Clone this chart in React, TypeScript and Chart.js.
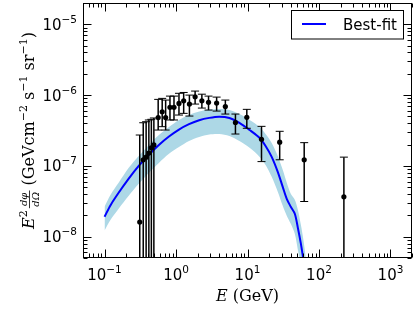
import { useEffect, useRef } from "react";
import { Chart, registerables } from "chart.js";
Chart.register(...registerables);

// ---- Data ----
const curveE = [0.1, 0.1215, 0.1575, 0.218, 0.301, 0.417, 0.576, 0.797, 1.1, 1.52, 2.11, 2.92, 4.03, 5.58, 7.71, 10.7, 14.8, 17.9, 21.8, 26.5, 31.1, 35.4, 40.3, 45.9, 50.6, 55.8, 60.5];
const curveY = [1.91e-8, 2.79e-8, 4.17e-8, 6.62e-8, 1.0e-7, 1.44e-7, 1.98e-7, 2.6e-7, 3.26e-7, 3.88e-7, 4.42e-7, 4.77e-7, 4.95e-7, 4.74e-7, 4.04e-7, 3.21e-7, 2.48e-7, 1.91e-7, 1.34e-7, 8.23e-8, 5.06e-8, 3.43e-8, 2.65e-8, 2.11e-8, 1.34e-8, 7.97e-9, 4.74e-9];

const bandE = [0.1, 0.1215, 0.1575, 0.218, 0.301, 0.417, 0.576, 0.797, 1.1, 1.52, 2.11, 2.92, 4.03, 5.58, 7.71, 10.7, 14.8, 17.9, 21.8, 26.5, 31.1, 35.4, 40.3, 45.9, 50.6, 55.8, 60.5, 65.6];
const bandHi = [2.65e-8, 3.91e-8, 5.77e-8, 9.38e-8, 1.38e-7, 1.98e-7, 2.73e-7, 3.54e-7, 4.45e-7, 5.23e-7, 5.86e-7, 6.25e-7, 6.35e-7, 6.15e-7, 5.4e-7, 4.45e-7, 3.54e-7, 2.82e-7, 2.11e-7, 1.38e-7, 8.79e-8, 5.77e-8, 4.04e-8, 3.32e-8, 2.4e-8, 1.47e-8, 9.08e-9, 5.0e-9];
const bandLo = [1.22e-8, 1.73e-8, 2.48e-8, 3.78e-8, 5.58e-8, 7.96e-8, 1.1e-7, 1.48e-7, 1.85e-7, 2.25e-7, 2.56e-7, 2.78e-7, 2.82e-7, 2.65e-7, 2.25e-7, 1.8e-7, 1.34e-7, 1.03e-7, 7.0e-8, 4.31e-8, 2.73e-8, 1.98e-8, 1.52e-8, 1.1e-8, 6.56e-9, 3.9e-9, 2e-9, 1e-9];

const dataE = [0.311, 0.348, 0.382, 0.417, 0.452, 0.49, 0.563, 0.641, 0.716, 0.823, 0.937, 1.1, 1.28, 1.54, 1.85, 2.3, 2.85, 3.7, 4.9, 6.78, 9.78, 15.7, 28.2, 62.1, 223];
const dataY = [1.61e-8, 1.22e-7, 1.33e-7, 1.52e-7, 1.8e-7, 1.98e-7, 4.82e-7, 5.82e-7, 4.82e-7, 6.71e-7, 6.71e-7, 7.64e-7, 8.3e-7, 7.47e-7, 9.46e-7, 8.3e-7, 7.9e-7, 7.72e-7, 6.88e-7, 4.1e-7, 4.85e-7, 2.38e-7, 2.16e-7, 1.22e-7, 3.66e-8];
const dataHi = [2.73e-7, 4.07e-7, 4.21e-7, 4.45e-7, 4.55e-7, 4.75e-7, 8.7e-7, 8.99e-7, 8.51e-7, 9.68e-7, 9.68e-7, 1.06e-6, 1.09e-6, 1.0e-6, 1.14e-6, 1.03e-6, 9.68e-7, 9.37e-7, 8.51e-7, 5.4e-7, 6.29e-7, 3.62e-7, 3.08e-7, 2.13e-7, 1.33e-7];
const dataLo = [1e-10, 1e-10, 1e-10, 1e-10, 1e-10, 1e-10, 3.21e-7, 3.58e-7, 3.21e-7, 4.45e-7, 4.45e-7, 5.23e-7, 5.52e-7, 5.06e-7, 7.47e-7, 6.56e-7, 6.15e-7, 5.95e-7, 5.4e-7, 2.82e-7, 3.4e-7, 1.15e-7, 1.22e-7, 3.14e-8, 1e-10];

const xTickExps = [-1, 0, 1, 2, 3];
const yTickExps = [-8, -7, -6, -5];
const xMin = 0.05, xMax = 2000, yMin = 5e-9, yMax = 2e-5;
const legendLabel = "Best-fit";

const SANS = '"DejaVu Sans", sans-serif';
const SERIF = '"DejaVu Serif", serif';

function drawPow(ctx: CanvasRenderingContext2D, exp: number, x: number, baseline: number, align: "center" | "right") {
  const base = "10";
  const sup = exp < 0 ? "\u2212" + Math.abs(exp) : String(exp);
  ctx.font = `15px ${SANS}`;
  const w1 = ctx.measureText(base).width;
  ctx.font = `10.5px ${SANS}`;
  const w2 = ctx.measureText(sup).width;
  const total = w1 + w2;
  const start = align === "center" ? x - total / 2 : x - total;
  ctx.textAlign = "left";
  ctx.textBaseline = "alphabetic";
  ctx.font = `15px ${SANS}`;
  ctx.fillText(base, start, baseline);
  ctx.font = `10.5px ${SANS}`;
  ctx.fillText(sup, start + w1, baseline - 7);
}

const customPlugin = {
  id: "custom",
  afterDatasetsDraw(chart: any) {
    const { ctx, chartArea: a, scales } = chart;
    const xs = scales.x, ys = scales.y;
    ctx.save();
    ctx.beginPath();
    ctx.rect(a.left, a.top, a.right - a.left, a.bottom - a.top);
    ctx.clip();
    ctx.strokeStyle = "#000";
    dataE.forEach((e, i) => {
      const px = xs.getPixelForValue(e);
      const top = ys.getPixelForValue(dataHi[i]);
      const bot = ys.getPixelForValue(dataLo[i]);
      ctx.lineWidth = 1.5;
      ctx.beginPath();
      ctx.moveTo(px, top);
      ctx.lineTo(px, bot);
      ctx.stroke();
      ctx.lineWidth = 1;
      ctx.beginPath();
      ctx.moveTo(px - 4, top);
      ctx.lineTo(px + 4, top);
      ctx.moveTo(px - 4, bot);
      ctx.lineTo(px + 4, bot);
      ctx.stroke();
      ctx.fillStyle = "#000";
      ctx.beginPath();
      ctx.arc(px, ys.getPixelForValue(dataY[i]), 2.6, 0, Math.PI * 2);
      ctx.fill();
    });
    ctx.restore();
  },
  afterDraw(chart: any) {
    const { ctx, chartArea: a, scales } = chart;
    const xs = scales.x, ys = scales.y;
    ctx.save();
    ctx.strokeStyle = "#000";
    ctx.fillStyle = "#000";
    ctx.lineWidth = 1;
    // frame
    ctx.strokeRect(Math.round(a.left) + 0.5, Math.round(a.top) + 0.5, Math.round(a.right - a.left) - 1, Math.round(a.bottom - a.top) - 1);
    const L = Math.round(a.left) + 0.5, R = Math.round(a.right) - 0.5, T = Math.round(a.top) + 0.5, B = Math.round(a.bottom) - 0.5;
    // ticks (inward, all four sides)
    ctx.beginPath();
    for (let e = -2; e <= 3; e++) {
      for (let k = 1; k <= 9; k++) {
        const v = k * Math.pow(10, e);
        if (v < xMin || v > xMax) continue;
        const px = Math.round(xs.getPixelForValue(v)) + 0.5;
        const len = k === 1 ? 8 : 4;
        ctx.moveTo(px, B); ctx.lineTo(px, B - len);
        ctx.moveTo(px, T); ctx.lineTo(px, T + len);
      }
    }
    for (let e = -9; e <= -5; e++) {
      for (let k = 1; k <= 9; k++) {
        const v = k * Math.pow(10, e);
        if (v < yMin || v > yMax) continue;
        const py = Math.round(ys.getPixelForValue(v)) + 0.5;
        const len = k === 1 ? 8 : 4;
        ctx.moveTo(L, py); ctx.lineTo(L + len, py);
        ctx.moveTo(R, py); ctx.lineTo(R - len, py);
      }
    }
    ctx.stroke();
    // tick labels
    xTickExps.forEach((e) => drawPow(ctx, e, xs.getPixelForValue(Math.pow(10, e)), 280, "center"));
    yTickExps.forEach((e) => drawPow(ctx, e, a.left - 6, ys.getPixelForValue(Math.pow(10, e)) + 5.5, "right"));

    // x label
    ctx.font = `italic 16px ${SERIF}`;
    const wE = ctx.measureText("E").width;
    ctx.font = `16px ${SERIF}`;
    const wRest = ctx.measureText(" (GeV)").width;
    const cx = (a.left + a.right) / 2;
    const sx = cx - (wE + wRest) / 2;
    ctx.textAlign = "left";
    ctx.font = `italic 16px ${SERIF}`;
    ctx.fillText("E", sx, 301);
    ctx.font = `16px ${SERIF}`;
    ctx.fillText(" (GeV)", sx + wE, 301);

    // y label (rotated)
    const segs: { t: string; f: string; dy: number }[] = [
      { t: "E", f: `italic 16px ${SERIF}`, dy: 0 },
      { t: "2", f: `11px ${SERIF}`, dy: -7 },
      { t: "FRAC", f: "", dy: 0 },
      { t: " (GeVcm", f: `16px ${SERIF}`, dy: 0 },
      { t: "\u22122", f: `11px ${SERIF}`, dy: -7 },
      { t: " s", f: `16px ${SERIF}`, dy: 0 },
      { t: "\u22121", f: `11px ${SERIF}`, dy: -7 },
      { t: " sr", f: `16px ${SERIF}`, dy: 0 },
      { t: "\u22121", f: `11px ${SERIF}`, dy: -7 },
      { t: ")", f: `16px ${SERIF}`, dy: 0 },
    ];
    const fracFont = `italic 10px ${SERIF}`;
    ctx.font = fracFont;
    const fracW = Math.max(ctx.measureText("d\u03C6").width, ctx.measureText("d\u03A9").width) + 3;
    let total = 0;
    const widths = segs.map((s) => {
      if (s.t === "FRAC") return fracW + 2;
      ctx.font = s.f;
      return ctx.measureText(s.t).width;
    });
    widths.forEach((w) => (total += w));
    ctx.translate(34, (a.top + a.bottom) / 2);
    ctx.rotate(-Math.PI / 2);
    let x0 = -total / 2;
    segs.forEach((s, i) => {
      if (s.t === "FRAC") {
        const fx = x0 + 2;
        ctx.font = fracFont;
        ctx.textAlign = "center";
        ctx.fillText("d\u03C6", fx + fracW / 2, -7.5);
        ctx.fillText("d\u03A9", fx + fracW / 2, 5);
        ctx.lineWidth = 0.8;
        ctx.beginPath();
        ctx.moveTo(fx, -4.5);
        ctx.lineTo(fx + fracW, -4.5);
        ctx.stroke();
        ctx.textAlign = "left";
      } else {
        ctx.font = s.f;
        ctx.fillText(s.t, x0, s.dy);
      }
      x0 += widths[i];
    });
    ctx.restore();

    // legend
    ctx.save();
    ctx.fillStyle = "#fff";
    ctx.strokeStyle = "#000";
    ctx.lineWidth = 1;
    ctx.fillRect(291.5, 10.5, 112, 28.5);
    ctx.strokeRect(291.5, 10.5, 112, 28.5);
    ctx.strokeStyle = "#0000ff";
    ctx.lineWidth = 2;
    ctx.beginPath();
    ctx.moveTo(302, 24);
    ctx.lineTo(326, 24);
    ctx.stroke();
    ctx.fillStyle = "#000";
    ctx.font = `15px ${SANS}`;
    ctx.textAlign = "left";
    ctx.fillText(legendLabel, 343, 30);
    ctx.restore();
  },
};

export default function App() {
  const ref = useRef<HTMLCanvasElement | null>(null);
  useEffect(() => {
    if (!ref.current) return;
    const chart = new Chart(ref.current, {
      type: "line",
      data: {
        datasets: [
          {
            data: bandE.map((e, i) => ({ x: e, y: bandHi[i] })),
            borderWidth: 0,
            borderColor: "rgba(0,0,0,0)",
            backgroundColor: "#add8e6",
            pointRadius: 0,
            fill: "+1",
            tension: 0.3,
            order: 3,
          },
          {
            data: bandE.map((e, i) => ({ x: e, y: bandLo[i] })),
            borderWidth: 0,
            borderColor: "rgba(0,0,0,0)",
            pointRadius: 0,
            fill: false,
            tension: 0.3,
            order: 4,
          },
          {
            label: legendLabel,
            data: curveE.map((e, i) => ({ x: e, y: curveY[i] })),
            borderColor: "#0000ff",
            borderWidth: 2,
            pointRadius: 0,
            fill: false,
            tension: 0.3,
            order: 1,
          },
        ],
      },
      options: {
        animation: false,
        responsive: false,
        devicePixelRatio: 1,
        layout: { padding: { left: 83, top: 3, right: 4, bottom: 54 } },
        scales: {
          x: { type: "logarithmic", min: xMin, max: xMax, display: false },
          y: { type: "logarithmic", min: yMin, max: yMax, display: false },
        },
        plugins: { legend: { display: false }, tooltip: { enabled: false } },
      },
      plugins: [customPlugin],
    });
    return () => chart.destroy();
  }, []);
  return (
    <div style={{ position: "absolute", left: 0, top: 0, width: 416, height: 312, background: "#fff" }}>
      <canvas ref={ref} width={416} height={312} />
    </div>
  );
}
